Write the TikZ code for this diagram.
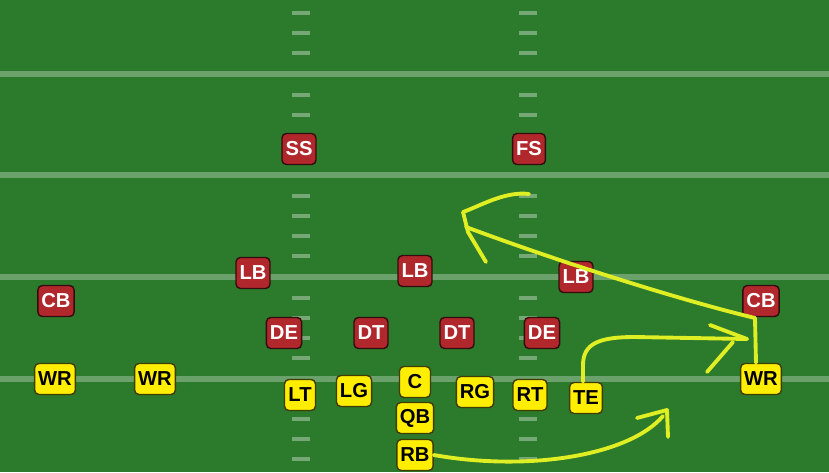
\documentclass[tikz,border=0pt]{standalone}
\usepackage{fontspec}
\setmainfont{Liberation Sans}
\usepackage{tikz}
\usepackage{color}

\definecolor{field}{RGB}{44,122,44}
\definecolor{defred}{RGB}{176,40,44}
\definecolor{offyel}{RGB}{255,238,0}
\definecolor{routecol}{RGB}{224,238,36}

\tikzset{
  player/.style={rounded corners=2.5pt, minimum width=6.2mm, minimum height=6.2mm,
    inner xsep=2pt, inner ysep=1pt, line width=0.8pt,
    font=\bfseries\fontsize{11.5}{11.5}\selectfont},
  defense/.style={player, fill=defred, draw=black!70!defred, text=white},
  offense/.style={player, fill=offyel, draw=black!75!offyel, text=black},
  route/.style={color=routecol, line width=2.2pt, line cap=round, line join=round},
  yardline/.style={color=white, opacity=0.3, line width=1.2mm},
  hashmark/.style={color=white, opacity=0.35, line width=0.9mm},
}

\begin{document}
\begin{tikzpicture}[%
      x=0.2mm, y=-0.2mm,
      ]
      \useasboundingbox (0,0) rectangle (829,472);
      \fill [field] (0,0) rectangle (829,472);

      % yard lines and hashes
      \foreach \y in {74,175,277,379}
        \draw [yardline] (0,\y) -- (829,\y);
      \foreach \y in {13,33,53,95,115,135,155,196,216,236,256,298,318,338,358,399,419,439,459} {
        \draw [hashmark] (292,\y) -- (310,\y);
        \draw [hashmark] (519,\y) -- (537,\y);
      }

      % defense
      \node [defense] (ss) at (299,149) {SS};
      \node [defense] (fs) at (529,149) {FS};
      \node [defense] (lbl) at (253,273) {LB};
      \node [defense] (lbm) at (415,271) {LB};
      \node [defense] (lbr) at (576,277) {LB};
      \node [defense] (cbl) at (56,301) {CB};
      \node [defense] (cbr) at (761,301) {CB};
      \node [defense] (del) at (284,333) {DE};
      \node [defense] (dtl) at (371,333) {DT};
      \node [defense] (dtr) at (457,333) {DT};
      \node [defense] (der) at (542,333) {DE};

      % offense
      \node [offense] (wrl) at (55,379) {WR};
      \node [offense] (wrm) at (155,379) {WR};
      \node [offense] (wrr) at (761,379) {WR};
      \node [offense] (lt) at (300,395) {LT};
      \node [offense] (lg) at (354,391) {LG};
      \node [offense] (c) at (415,382) {C};
      \node [offense] (rg) at (475,392) {RG};
      \node [offense] (rt) at (530,395) {RT};
      \node [offense] (te) at (586,398) {TE};
      \node [offense] (qb) at (415,418) {QB};
      \node [offense] (rb) at (415,455) {RB};

      % routes
      \coordinate (wrcut) at (755,318);
      \coordinate (wrtip) at (466,227);
      \coordinate (tetip) at (747,339);
      \coordinate (rbtip) at (667,410);

      \draw [route] ([xshift=-1mm]wrr.north) -- (wrcut)
            .. controls (680,300) and (560,262) .. (wrtip);
      \draw [route] (529,194) .. controls (505,191) and (480,206) .. (463,212)
            -- (468,232) -- (486,262);

      \draw [route] ([xshift=-0.6mm]te.north) -- (583,365)
            .. controls (583,343) and (600,337) .. (635,337) -- (tetip);
      \draw [route] (710,325) -- (tetip);
      \draw [route] (733,342) -- (707,372);

      \draw [route] (rb.east) .. controls (530,472) and (630,455) .. (663,416);
      \draw [route] (637,418) -- (rbtip) -- (668,437);
\end{tikzpicture}
\end{document}
